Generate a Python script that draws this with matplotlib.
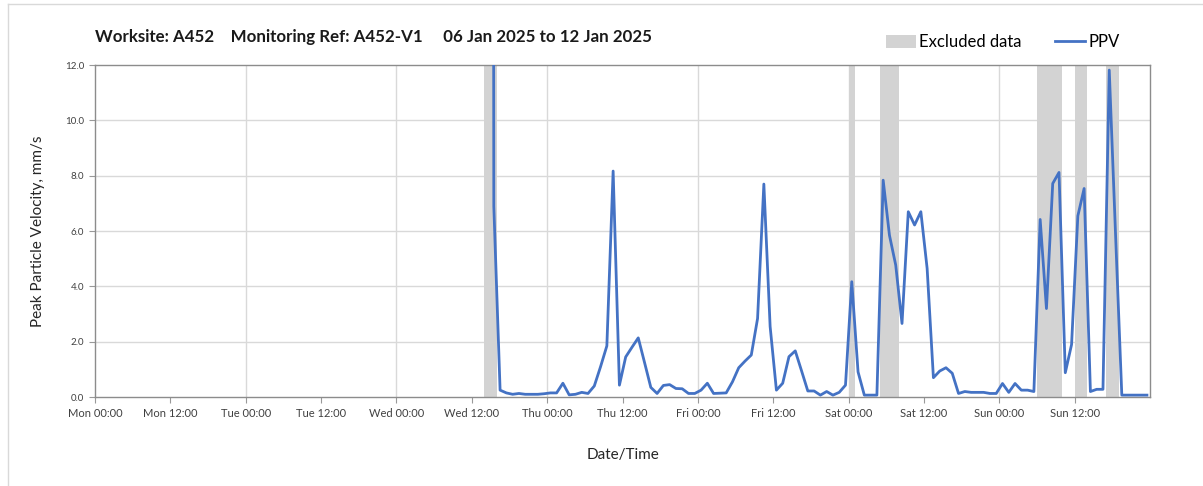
import matplotlib
matplotlib.use("Agg")
import matplotlib.pyplot as plt
from matplotlib.patches import Patch
from matplotlib.lines import Line2D

# hours since Mon 06 Jan 2025 00:00
START_TIMES = [63.35, 63.5]
START_VALUES = [40.0, 6.9]

HOURLY_START = 64.5
PPV_HOURLY = [
    0.25, 0.15, 0.10, 0.13, 0.10, 0.10, 0.10, 0.12, 0.15, 0.15,   # 64.5 - 73.5
    0.50, 0.08, 0.10, 0.17, 0.13, 0.40, 1.10, 1.85, 8.17, 0.43,   # 74.5 - 83.5
    1.45, 1.80, 2.14, 1.25, 0.35, 0.13, 0.42, 0.45, 0.31, 0.30,   # 84.5 - 93.5
    0.13, 0.13, 0.25, 0.50, 0.13, 0.14, 0.15, 0.55, 1.06, 1.30,   # 94.5 - 103.5
    1.52, 2.84, 7.70, 2.55, 0.25, 0.50, 1.46, 1.67, 0.95, 0.22,   # 104.5 - 113.5
    0.22, 0.07, 0.20, 0.07, 0.17, 0.43, 4.17, 0.91, 0.07, 0.07,   # 114.5 - 123.5
    0.07, 7.84, 5.85, 4.77, 2.66, 6.70, 6.22, 6.70, 4.65, 0.70,   # 124.5 - 133.5
    0.94, 1.06, 0.86, 0.13, 0.20, 0.17, 0.17, 0.17, 0.13, 0.13,   # 134.5 - 143.5
    0.49, 0.17, 0.49, 0.25, 0.25, 0.20, 6.42, 3.20, 7.72, 8.12,   # 144.5 - 153.5
    0.88, 1.90, 6.55, 7.54, 0.20, 0.28, 0.28, 11.82, 5.90, 0.07,  # 154.5 - 163.5
    0.07, 0.07, 0.07, 0.07,                                       # 164.5 - 167.5
]

# excluded data periods (start hour, end hour)
EXCLUDED = [(62.0, 64.0), (120.0, 121.0), (125.0, 128.0),
            (150.0, 154.0), (156.0, 158.0), (161.0, 163.0)]

TICK_LABELS = ["Mon 00:00", "Mon 12:00", "Tue 00:00", "Tue 12:00",
               "Wed 00:00", "Wed 12:00", "Thu 00:00", "Thu 12:00",
               "Fri 00:00", "Fri 12:00", "Sat 00:00", "Sat 12:00",
               "Sun 00:00", "Sun 12:00"]

TITLE = "Worksite: A452    Monitoring Ref: A452-V1     06 Jan 2025 to 12 Jan 2025"

LINE_COLOR = "#4472C4"
SPAN_COLOR = "#D3D3D3"

plt.rcParams['font.family'] = ['Lato', 'DejaVu Sans']

times = START_TIMES + [HOURLY_START + i for i in range(len(PPV_HOURLY))]
values = START_VALUES + PPV_HOURLY

fig = plt.figure(figsize=(12.03, 4.86), dpi=100)
ax = fig.add_axes([0.079, 0.183, 0.877, 0.683])

for s, e in EXCLUDED:
    ax.axvspan(s, e, color=SPAN_COLOR, lw=0, zorder=1)

ax.plot(times, values, color=LINE_COLOR, lw=2.0, zorder=3, clip_on=True)

ax.set_xlim(0, 168)
ax.set_ylim(0, 12)
ax.set_xticks([12 * i for i in range(len(TICK_LABELS))])
ax.set_xticklabels(TICK_LABELS, fontsize=8, color="#404040")
ax.set_yticks([0, 2, 4, 6, 8, 10, 12])
ax.set_yticklabels([f"{v:.1f}" for v in range(0, 13, 2)], fontsize=7, color="#404040")
ax.tick_params(axis='both', length=4, color="#999999", pad=4)

# grid: horizontal at every tick, vertical only at midnight
for v in range(2, 12, 2):
    ax.axhline(v, color="#D9D9D9", lw=1.0, zorder=0)
for h in range(24, 168, 24):
    ax.axvline(h, color="#D9D9D9", lw=1.0, zorder=0)

for sp in ax.spines.values():
    sp.set_color("#8C8C8C")
    sp.set_linewidth(1.0)

ax.set_ylabel("Peak Particle Velocity, mm/s", fontsize=11, color="#262626", labelpad=14)
ax.set_xlabel("Date/Time", fontsize=11, color="#262626", labelpad=21)

fig.text(0.079, 0.924, TITLE, fontsize=12.2, fontweight='bold', color="#1a1a1a",
         ha='left', va='center')

handles = [Patch(facecolor=SPAN_COLOR, edgecolor='none', label="Excluded data"),
           Line2D([0], [0], color=LINE_COLOR, lw=2, label="PPV")]
fig.legend(handles=handles, loc='center right', bbox_to_anchor=(0.943, 0.913),
           ncol=2, frameon=False, fontsize=12, handlelength=1.8,
           handleheight=0.8, columnspacing=2.0, handletextpad=0.2)

# thin page border at top / left
fig.add_artist(Line2D([8 / 1203, 1], [1 - 4 / 486, 1 - 4 / 486], color="#D9D9D9", lw=1))
fig.add_artist(Line2D([8 / 1203, 8 / 1203], [0, 1 - 4 / 486], color="#D9D9D9", lw=1))

fig.savefig("out.png", dpi=100)
